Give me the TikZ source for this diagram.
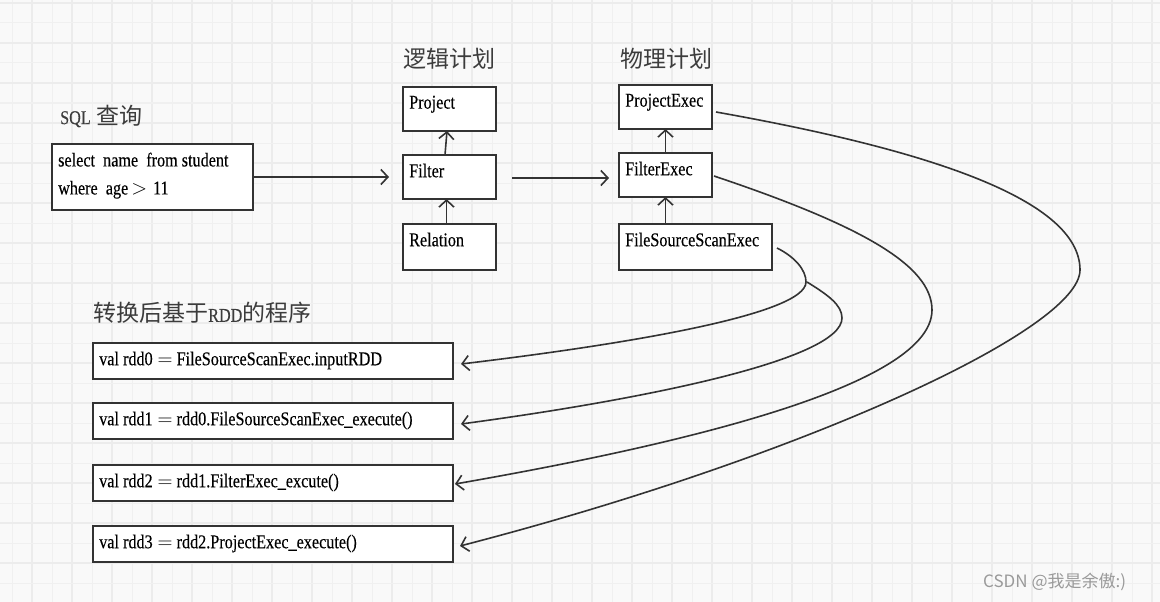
\documentclass[tikz,border=0pt]{standalone}
\usepackage{fontspec}
\setmainfont{Liberation Serif}[FakeStretch=0.83,FakeBold=0.25]
\newfontfamily\cjk{Noto Sans CJK SC}
\usetikzlibrary{arrows.meta}
\definecolor{bgc}{HTML}{F9F9F9}
\definecolor{gridthin}{HTML}{F0F0F0}
\definecolor{gridthick}{HTML}{ECECEC}
\definecolor{linec}{HTML}{333333}
\definecolor{headc}{HTML}{3C3C3C}
\definecolor{wmc}{HTML}{9A9A9A}
\newcommand{\boxfont}{\fontsize{19.5}{28}\selectfont}
\newcommand{\headfont}{\fontsize{23}{26}\selectfont}
\newcommand{\eqs}{\hspace{5pt}$=$\hspace{4pt}}
\begin{document}
\begin{tikzpicture}[x=1pt,y=-1pt,
  box/.style={draw=linec, fill=white, line width=1.2pt, inner sep=0pt, outer sep=0pt, anchor=north west},
  boxtext/.style={anchor=north west, inner sep=0pt, xshift=6pt, yshift=-8.5pt, font=\boxfont, align=left, text=black},
  head/.style={anchor=west, inner sep=0pt, text=headc},
  arr/.style={draw=linec, line width=1.6pt, -{Straight Barb[length=7pt,width=15pt]}},
]
\fill[bgc] (0,0) rectangle (1160,602);
\useasboundingbox (0,0) rectangle (1160,602);
% grid
\foreach \x in {12,52,...,1132} \draw[gridthin, line width=1pt] (\x,0) -- (\x,602);
\foreach \x in {32,72,...,1152} \draw[gridthick, line width=2pt] (\x,0) -- (\x,602);
\foreach \y in {23,63,...,583} \draw[gridthin, line width=1pt] (0,\y) -- (1160,\y);
\foreach \y in {3,43,...,563} \draw[gridthick, line width=2pt] (0,\y) -- (1160,\y);

% headings
\node[head] (hsql) at (60,116) {{\boxfont SQL}\hspace{6pt}{\cjk\headfont 查询}};
\node[head] (hlog) at (403,59) {\cjk\headfont 逻辑计划};
\node[head] (hphy) at (620,59) {\cjk\headfont 物理计划};
\node[head] (hrdd) at (93,313) {\cjk\headfont 转换后基于{\rmfamily\boxfont RDD}的程序};
\node[anchor=west, inner sep=0pt, text=wmc] (wm) at (983,582) {\cjk\fontsize{17}{20}\selectfont CSDN @我是余傲:)};

% SQL box
\node[box, minimum width=201pt, minimum height=66pt,
  label={[boxtext]north west:select\ \ name\ \ from student\\where\ \ age\hspace{3pt}$>$\hspace{6pt}11}] (sql) at (52,144) {};

% logical plan
\node[box, minimum width=93pt, minimum height=44pt, label={[boxtext]north west:Project}] (project) at (403,87) {};
\node[box, minimum width=93pt, minimum height=44pt, label={[boxtext]north west:Filter}] (filter) at (403,155) {};
\node[box, minimum width=93pt, minimum height=46pt, label={[boxtext]north west:Relation}] (relation) at (403,224) {};

% physical plan
\node[box, minimum width=93pt, minimum height=44pt, label={[boxtext]north west:ProjectExec}] (pexec) at (619,85) {};
\node[box, minimum width=93pt, minimum height=44pt, label={[boxtext]north west:FilterExec}] (fexec) at (619,153) {};
\node[box, minimum width=153pt, minimum height=46pt, label={[boxtext]north west:FileSourceScanExec}] (fsse) at (619,224) {};

% rdd program
\node[box, minimum width=360pt, minimum height=36pt, label={[boxtext]north west:val rdd0\eqs FileSourceScanExec.inputRDD}] (rdd0) at (93,343) {};
\node[box, minimum width=360pt, minimum height=36pt, label={[boxtext]north west:val rdd1\eqs rdd0.FileSourceScanExec\_execute()}] (rdd1) at (93,403) {};
\node[box, minimum width=360pt, minimum height=36pt, label={[boxtext]north west:val rdd2\eqs rdd1.FilterExec\_excute()}] (rdd2) at (93,465) {};
\node[box, minimum width=360pt, minimum height=36pt, label={[boxtext]north west:val rdd3\eqs rdd2.ProjectExec\_execute()}] (rdd3) at (93,526) {};

% straight arrows
\draw[arr] (sql.east) -- ([xshift=-14pt]filter.west);
\coordinate (ls) at (512,178);
\coordinate (le) at (609,178);
\draw[arr] (ls) -- (le);
\draw[arr] ([xshift=-3pt]relation.north) -- ([xshift=-3pt]filter.south);
\draw[arr] ([xshift=-4.5pt]filter.north) -- ([xshift=-2.5pt]project.south);
\draw[arr] (fsse.north -| fexec.south) -- (fexec.south);
\draw[arr] (fexec.north) -- (pexec.south);

% curved connectors
\coordinate (c1s) at ([xshift=5pt,yshift=-1pt]fsse.east);
\coordinate (split) at (807,282);
\coordinate (c1e) at ([xshift=8pt,yshift=-3pt]rdd0.east);
\coordinate (c2e) at ([xshift=8pt,yshift=-3pt]rdd1.east);
\coordinate (c3s) at ([xshift=2pt,yshift=-1pt]fexec.east);
\coordinate (c3e) at ([xshift=2pt,yshift=-1pt]rdd2.east);
\coordinate (c4s) at ([xshift=4pt,yshift=-5pt]pexec.east);
\coordinate (c4e) at ([xshift=7pt,yshift=-2pt]rdd3.east);

\draw[arr] (c1s) .. controls (795,257) and (806,270) .. (806,282)
  .. controls (806,315) and (620,345) .. (c1e);
\draw[arr] (split) .. controls (828,295) and (842,305) .. (842,318)
  .. controls (842,360) and (640,400) .. (c2e);
\draw[arr] (c3s) .. controls (860,225) and (932,265) .. (932,310)
  .. controls (932,390) and (650,450) .. (c3e);
\draw[arr] (c4s) .. controls (930,150) and (1080,200) .. (1080,270)
  .. controls (1080,330) and (800,458) .. (c4e);
\end{tikzpicture}
\end{document}
